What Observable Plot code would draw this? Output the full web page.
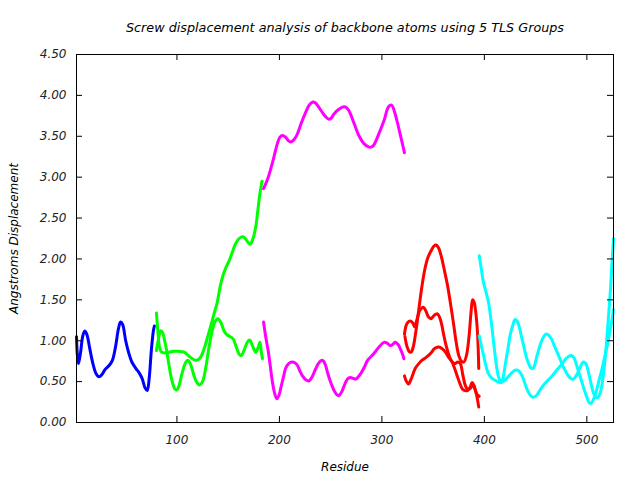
<!DOCTYPE html>
<html>
<head>
<meta charset="utf-8">
<script src="https://cdn.jsdelivr.net/npm/d3@7"></script>
<script src="https://cdn.jsdelivr.net/npm/@observablehq/plot@0.6"></script>
<style>
  html, body { margin: 0; padding: 0; background: white; }
</style>
</head>
<body>
<div id="chart"></div>
<script>
// ---- Data: [residue, displacement (Å)] ----
const titleText = "Screw displacement analysis of backbone atoms using 5 TLS Groups";
const xLabel = "Residue";
const yLabel = "Angstroms Displacement";
const xTicks = [100, 200, 300, 400, 500];
const yTicks = [0, 0.5, 1, 1.5, 2, 2.5, 3, 3.5, 4, 4.5];

const groupColors = ["#0000ff", "#00ff00", "#ff00ff", "#ff0000", "#00ffff"];

const blue1 = [[2,1.05],[3,0.80],[4,0.72],[6,0.86],[8,1.05],[10,1.12],[12,1.08],[15,0.90],[18,0.72],[21,0.60],[24,0.56],[27,0.59],[30,0.65],[34,0.70],[37,0.76],[40,0.92],[43,1.15],[45,1.23],[47,1.20],[50,1.00],[53,0.85],[56,0.74],[60,0.66],[63,0.61],[66,0.54],[69,0.42],[71,0.39],[73,0.55],[75,0.88],[77,1.12],[78,1.18]];

const green1 = [[80,1.34],[81.5,1.10],[83,0.92],[85,0.86],[88,0.85],[92,0.86],[97,0.87],[102,0.87],[107,0.86],[111,0.82],[115,0.78],[118,0.76],[121,0.77],[124,0.82],[127,0.92],[130,1.05],[133,1.18],[136,1.32],[139,1.45],[142,1.65],[145,1.80],[148,1.90],[151,1.98],[154,2.08],[157,2.18],[160,2.24],[163,2.27],[166,2.26],[169,2.21],[171.5,2.18],[174,2.24],[177,2.40],[179,2.60],[181,2.80],[183,2.95]];
const green2 = [[80,0.88],[82,1.02],[84,1.12],[86,1.10],[88,1.00],[90,0.88],[92,0.72],[95,0.52],[98,0.41],[100,0.40],[102,0.45],[105,0.60],[108,0.72],[110.5,0.76],[113,0.72],[116,0.60],[119,0.50],[122,0.46],[125,0.50],[128,0.66],[131,0.90],[134,1.10],[137,1.23],[140,1.27],[143,1.22],[146,1.12],[149,1.07],[152,1.05],[155,1.02],[158,0.92],[161,0.83],[163,0.82],[166,0.90],[169,0.99],[171,1.01],[174,0.93],[177,0.86],[179,0.91],[181,0.98],[182.5,0.85],[183.5,0.78]];

const magenta1 = [[184.5,2.86],[188,2.96],[191.5,3.10],[194.5,3.24],[198,3.41],[200.5,3.49],[203,3.51],[206,3.49],[208.5,3.45],[211,3.43],[213.5,3.45],[216,3.49],[218.5,3.56],[221,3.65],[225.5,3.79],[229,3.88],[232.5,3.92],[235,3.91],[237,3.88],[242,3.79],[245,3.74],[248,3.71],[250.5,3.72],[253,3.77],[258,3.83],[263,3.86],[265.5,3.85],[268,3.81],[272.5,3.67],[277.5,3.51],[282.5,3.41],[287,3.37],[290,3.37],[292,3.39],[297,3.53],[302,3.69],[306.5,3.86],[309.5,3.88],[313,3.77],[317,3.57],[320,3.41],[322,3.30]];
const magenta2 = [[184.5,1.23],[187,1.02],[189,0.88],[191,0.70],[193,0.51],[195.5,0.35],[197.5,0.29],[199.5,0.33],[201.5,0.43],[204,0.56],[206,0.66],[209,0.72],[212.5,0.74],[215,0.73],[217.5,0.70],[220,0.63],[222.5,0.57],[226,0.52],[229,0.51],[232,0.56],[235.5,0.66],[238.5,0.73],[241,0.76],[243,0.75],[245,0.70],[247,0.61],[249.5,0.51],[253,0.40],[256,0.34],[258,0.33],[261,0.38],[264.5,0.49],[267,0.54],[269.5,0.55],[272,0.54],[274.5,0.53],[277,0.56],[279.5,0.60],[283,0.68],[286,0.76],[292,0.84],[297,0.92],[302,0.98],[305,0.97],[308.5,0.94],[311,0.96],[313,0.98],[316,0.95],[318,0.90],[320,0.84],[321.5,0.78]];

const red1 = [[322.5,1.05],[324.5,0.93],[326.5,0.87],[328.5,0.86],[330.5,0.92],[333,1.10],[336,1.38],[339,1.66],[342,1.88],[345,2.02],[348,2.10],[351,2.16],[353,2.17],[355.5,2.13],[358,2.03],[361,1.86],[364,1.68],[367,1.45],[370,1.20],[372.5,0.98],[375,0.82],[377.5,0.75],[380,0.74],[382.5,0.82],[385,1.05],[387,1.35],[388.5,1.50],[390,1.47],[392,1.30],[393.5,1.05],[394.5,0.66]];
const red2 = [[322,1.08],[323.5,1.18],[325,1.22],[327.5,1.24],[330,1.22],[332,1.17],[334,1.25],[337,1.37],[340.5,1.41],[343,1.36],[345.5,1.29],[348,1.27],[351,1.31],[354,1.33],[356.5,1.28],[358.5,1.19],[360.5,1.06],[362.5,0.95],[365,0.84],[367.5,0.76],[371,0.72],[374,0.74],[376.5,0.72],[379,0.58],[381.5,0.45],[384,0.40],[386.5,0.42],[389,0.46],[391,0.40],[393,0.34],[395,0.32]];
const red3 = [[322,0.57],[324,0.50],[326,0.47],[328.5,0.53],[332.5,0.66],[336,0.72],[339,0.76],[342.5,0.79],[345.5,0.82],[348.5,0.86],[351,0.90],[354,0.92],[356.5,0.92],[359,0.90],[362,0.86],[365,0.80],[368.5,0.74],[371,0.66],[373.5,0.57],[376,0.48],[378.5,0.41],[381,0.39],[383.5,0.39],[386,0.43],[388,0.49],[390,0.45],[391.5,0.38],[393,0.30],[394.5,0.19]];

const cyan1 = [[395,2.04],[397,1.88],[399,1.72],[401.5,1.60],[404,1.47],[406,1.30],[407.5,1.15],[409,0.98],[410.5,0.82],[412,0.68],[414,0.55],[416.5,0.49],[418.5,0.56],[420.5,0.72],[423,0.90],[425,1.06],[427.5,1.18],[430,1.26],[432,1.24],[434,1.17],[436,1.06],[438.5,0.93],[441,0.80],[443.5,0.71],[446,0.66],[448,0.67],[451,0.80],[454,0.93],[457,1.03],[460,1.08],[462.5,1.07],[465.5,1.02],[468.5,0.93],[471,0.86],[474,0.77],[477,0.68],[480.5,0.60],[484,0.54],[487,0.53],[490,0.58],[493,0.66],[496.5,0.74],[499,0.72],[501.5,0.62],[504,0.48],[506.5,0.36],[509,0.31],[511,0.31],[513,0.36],[515,0.48],[517,0.68],[519,0.95],[521,1.28],[523,1.62],[524.5,1.95],[526,2.25]];
const cyan2 = [[395,1.06],[397,0.94],[398.5,0.86],[401,0.72],[403.5,0.61],[406,0.56],[408.5,0.53],[411.5,0.51],[414.5,0.49],[418,0.50],[421,0.53],[424,0.57],[427,0.61],[430,0.64],[432.5,0.64],[435,0.61],[437.5,0.55],[440,0.46],[442.5,0.38],[445,0.33],[447.5,0.31],[450,0.32],[452.5,0.36],[456,0.43],[460,0.49],[464,0.54],[468,0.60],[472,0.66],[476,0.72],[479.5,0.78],[482.5,0.81],[485,0.82],[487.5,0.79],[490,0.70],[492.5,0.60],[495,0.50],[497.5,0.40],[500,0.31],[502.5,0.24],[504.5,0.24],[507,0.30],[509.5,0.40],[512,0.52],[514.5,0.64],[517,0.78],[519.5,0.92],[522,1.08],[524,1.22],[526,1.38]];

const series = [
  {data: blue1, color: groupColors[0]},
  {data: green1, color: groupColors[1]},
  {data: green2, color: groupColors[1]},
  {data: magenta1, color: groupColors[2]},
  {data: magenta2, color: groupColors[2]},
  {data: red1, color: groupColors[3]},
  {data: red2, color: groupColors[3]},
  {data: red3, color: groupColors[3]},
  {data: cyan1, color: groupColors[4]},
  {data: cyan2, color: groupColors[4]}
];

const W = 640, H = 480;
const mL = 76, mR = 27, mT = 54, mB = 58;
const frameW = W - mL - mR, frameH = H - mT - mB;
const tickLen = 6;

const chart = Plot.plot({
  width: W,
  height: H,
  marginLeft: mL,
  marginRight: mR,
  marginTop: mT,
  marginBottom: mB,
  style: {fontFamily: "DejaVu Sans", fontSize: "12px", fontStyle: "italic", background: "white", color: "black"},
  x: {domain: [2, 526]},
  y: {domain: [0, 4.5]},
  marks: [
    // curves
    ...series.map(s => Plot.line(s.data, {x: d => d[0], y: d => d[1], stroke: s.color, strokeWidth: 3, curve: "catmull-rom"})),
    // inward ticks (all four sides)
    Plot.tickX(xTicks, {x: d => d, stroke: "black", insetTop: frameH - tickLen}),
    Plot.tickX(xTicks, {x: d => d, stroke: "black", insetBottom: frameH - tickLen}),
    Plot.tickY(yTicks, {y: d => d, stroke: "black", insetRight: frameW - tickLen}),
    Plot.tickY(yTicks, {y: d => d, stroke: "black", insetLeft: frameW - tickLen}),
    Plot.frame({stroke: "black", strokeWidth: 1}),
    // tick labels
    Plot.axisX({ticks: xTicks, tickSize: 0, tickPadding: 13, tickFormat: d => String(d), label: null, fill: "#222"}),
    Plot.axisY({ticks: yTicks, tickSize: 0, tickPadding: 10, tickFormat: d => d.toFixed(2), label: null, fill: "#222"}),
    // labels & title
    Plot.text([titleText], {text: d => d, frameAnchor: "top", textAnchor: "middle", lineAnchor: "middle", dy: -27, fontSize: 12.75, fill: "black"}),
    Plot.text([xLabel], {text: d => d, frameAnchor: "bottom", textAnchor: "middle", lineAnchor: "middle", dy: 45, fill: "black"}),
    Plot.text([yLabel], {text: d => d, frameAnchor: "left", textAnchor: "middle", lineAnchor: "middle", dx: -62, rotate: -90, fill: "black"})
  ]
});
document.getElementById("chart").appendChild(chart);
</script>
</body>
</html>
